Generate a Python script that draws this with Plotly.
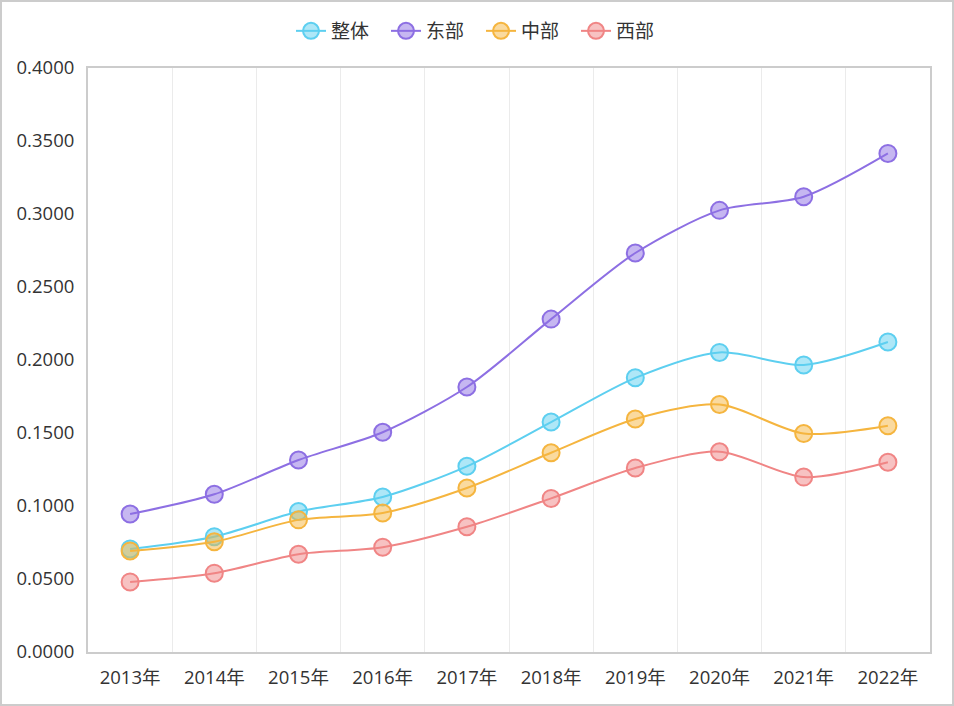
import plotly.graph_objects as go

years = ["2013年", "2014年", "2015年", "2016年", "2017年", "2018年", "2019年", "2020年", "2021年", "2022年"]
overall = [0.0705, 0.0790, 0.0962, 0.1062, 0.1272, 0.1575, 0.1878, 0.2052, 0.1966, 0.2123]
east = [0.0945, 0.1080, 0.1315, 0.1505, 0.1815, 0.2280, 0.2733, 0.3025, 0.3118, 0.3415]
central = [0.0692, 0.0755, 0.0905, 0.0952, 0.1123, 0.1365, 0.1596, 0.1695, 0.1497, 0.1550]
west = [0.0480, 0.0540, 0.0670, 0.0718, 0.0858, 0.1052, 0.1260, 0.1372, 0.1198, 0.1300]
names = ["整体", "东部", "中部", "西部"]
colors = ["#5dcff0", "#8d6fe3", "#f5b53f", "#f08585"]
fills = ["rgba(93,207,240,0.5)", "rgba(141,111,227,0.5)", "rgba(245,181,63,0.5)", "rgba(240,133,133,0.5)"]
yticks = [0, 0.05, 0.1, 0.15, 0.2, 0.25, 0.3, 0.35, 0.4]

FONT = "Open Sans, Noto Sans CJK SC"
fig = go.Figure()
for name, vals, c, f in zip(names, [overall, east, central, west], colors, fills):
    fig.add_trace(go.Scatter(
        x=years, y=vals, name=name, mode="lines+markers",
        line=dict(color=c, width=2, shape="spline", smoothing=0.8),
        marker=dict(symbol="circle", size=17, color=f, line=dict(color=c, width=2)),
    ))

W, H = 954, 706
ml, mr, mt, mb = 88, 24, 68, 54
pw, ph = W - ml - mr, H - mt - mb

fig.update_layout(
    width=W, height=H,
    margin=dict(l=ml, r=mr, t=mt, b=mb, autoexpand=False),
    paper_bgcolor="white", plot_bgcolor="white",
    font=dict(family=FONT, size=18.5, color="#333333"),
    legend=dict(orientation="h", x=(W / 2 + 4 - ml) / pw, xanchor="center",
                y=1 + 37 / ph, yanchor="middle", entrywidth=50,
                font=dict(family="Noto Sans CJK SC", size=19, color="#333333"), tracegroupgap=0),
    xaxis=dict(type="category", range=[-0.5, 9.5], tickson="boundaries", showgrid=True,
               gridcolor="#ebebeb", gridwidth=1, showline=True, linecolor="#cccccc", linewidth=2,
               mirror=True, ticks="", ticklabelstandoff=8, tickfont=dict(size=18.5, color="#333333")),
    yaxis=dict(range=[0, 0.4], tickvals=yticks, tickformat=".4f", showgrid=False,
               zeroline=False, showline=True, linecolor="#cccccc", linewidth=2, mirror=True,
               ticks="", ticklabelstandoff=8, tickfont=dict(size=18.5, color="#333333")),
    shapes=[dict(type="rect", xref="paper", yref="paper",
                 x0=-(ml - 1) / pw, x1=1 + (mr - 1) / pw,
                 y0=-(mb - 1) / ph, y1=1 + (mt - 1) / ph,
                 line=dict(color="#cccccc", width=2), fillcolor="rgba(0,0,0,0)", layer="below")],
)
fig.write_html("out.html", config={"displayModeBar": False},
               post_script="document.body.style.margin='0';")
